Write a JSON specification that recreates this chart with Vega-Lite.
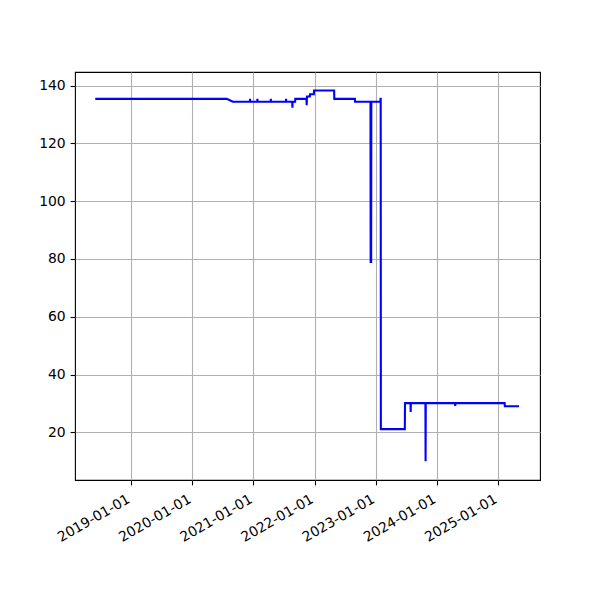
{
  "$schema": "https://vega.github.io/schema/vega-lite/v6.json",
  "width": 465,
  "height": 408,
  "padding": {"left": 75, "top": 72, "right": 60, "bottom": 120},
  "autosize": {"type": "none"},
  "background": "white",
  "config": {
    "view": {"stroke": "black", "strokeWidth": 1.1},
    "font": "DejaVu Sans",
    "axis": {
      "labelFont": "DejaVu Sans",
      "labelFontSize": 13.9,
      "labelColor": "black",
      "tickColor": "black",
      "tickSize": 4.9,
      "tickWidth": 1.1,
      "labelPadding": 4.9,
      "domain": false,
      "grid": true,
      "gridColor": "#b0b0b0",
      "gridWidth": 1.1,
      "title": null
    }
  },
  "data": {
    "values": [
      {"date": "2018-06-02", "value": 135.4},
      {"date": "2020-07-26", "value": 135.4},
      {"date": "2020-08-31", "value": 134.4},
      {"date": "2020-12-11", "value": 134.4},
      {"date": "2020-12-12", "value": 135.4},
      {"date": "2020-12-13", "value": 134.4},
      {"date": "2021-01-24", "value": 134.4},
      {"date": "2021-01-25", "value": 135.4},
      {"date": "2021-01-26", "value": 134.4},
      {"date": "2021-04-14", "value": 134.4},
      {"date": "2021-04-15", "value": 135.4},
      {"date": "2021-04-16", "value": 134.4},
      {"date": "2021-07-14", "value": 134.4},
      {"date": "2021-07-15", "value": 135.4},
      {"date": "2021-07-16", "value": 134.4},
      {"date": "2021-08-21", "value": 134.4},
      {"date": "2021-08-22", "value": 132.3},
      {"date": "2021-08-23", "value": 134.4},
      {"date": "2021-09-07", "value": 134.4},
      {"date": "2021-09-08", "value": 135.4},
      {"date": "2021-11-14", "value": 135.4},
      {"date": "2021-11-15", "value": 133.2},
      {"date": "2021-11-17", "value": 136.2},
      {"date": "2021-12-04", "value": 136.2},
      {"date": "2021-12-05", "value": 137.0},
      {"date": "2021-12-28", "value": 137.0},
      {"date": "2021-12-29", "value": 138.3},
      {"date": "2022-04-28", "value": 138.3},
      {"date": "2022-04-29", "value": 135.4},
      {"date": "2022-08-30", "value": 135.4},
      {"date": "2022-08-31", "value": 134.4},
      {"date": "2022-12-01", "value": 134.4},
      {"date": "2022-12-02", "value": 79.0},
      {"date": "2022-12-05", "value": 79.0},
      {"date": "2022-12-06", "value": 134.4},
      {"date": "2023-01-29", "value": 134.4},
      {"date": "2023-01-30", "value": 135.4},
      {"date": "2023-01-31", "value": 135.4},
      {"date": "2023-02-01", "value": 21.1},
      {"date": "2023-06-24", "value": 21.1},
      {"date": "2023-06-25", "value": 30.1},
      {"date": "2023-07-28", "value": 30.1},
      {"date": "2023-07-29", "value": 27.0},
      {"date": "2023-07-30", "value": 30.1},
      {"date": "2023-10-25", "value": 30.1},
      {"date": "2023-10-26", "value": 10.0},
      {"date": "2023-10-27", "value": 30.1},
      {"date": "2024-04-19", "value": 30.1},
      {"date": "2024-04-20", "value": 29.1},
      {"date": "2024-04-21", "value": 30.1},
      {"date": "2025-02-09", "value": 30.1},
      {"date": "2025-02-10", "value": 29.0},
      {"date": "2025-05-06", "value": 29.0}
    ]
  },
  "mark": {"type": "line", "color": "#0000ff", "strokeWidth": 2.08, "clip": true},
  "encoding": {
    "x": {
      "field": "date",
      "type": "temporal",
      "scale": {
        "type": "utc",
        "domain": [
          {"year": 2018, "month": 2, "date": 1, "utc": true},
          {"year": 2025, "month": 9, "date": 8, "utc": true}
        ],
        "nice": false
      },
      "axis": {
        "values": [
          {"year": 2019, "month": 1, "date": 1, "utc": true},
          {"year": 2020, "month": 1, "date": 1, "utc": true},
          {"year": 2021, "month": 1, "date": 1, "utc": true},
          {"year": 2022, "month": 1, "date": 1, "utc": true},
          {"year": 2023, "month": 1, "date": 1, "utc": true},
          {"year": 2024, "month": 1, "date": 1, "utc": true},
          {"year": 2025, "month": 1, "date": 1, "utc": true}
        ],
        "labelExpr": "utcFormat(datum.value, '%Y-%m-%d')",
        "labelOverlap": false,
        "labelAngle": -30,
        "labelAlign": "right",
        "labelBaseline": "top",
        "labelOffset": -6,
        "labelPadding": 7
      }
    },
    "y": {
      "field": "value",
      "type": "quantitative",
      "scale": {"domain": [3.5, 144.7], "nice": false, "zero": false},
      "axis": {"values": [20, 40, 60, 80, 100, 120, 140]}
    }
  }
}
